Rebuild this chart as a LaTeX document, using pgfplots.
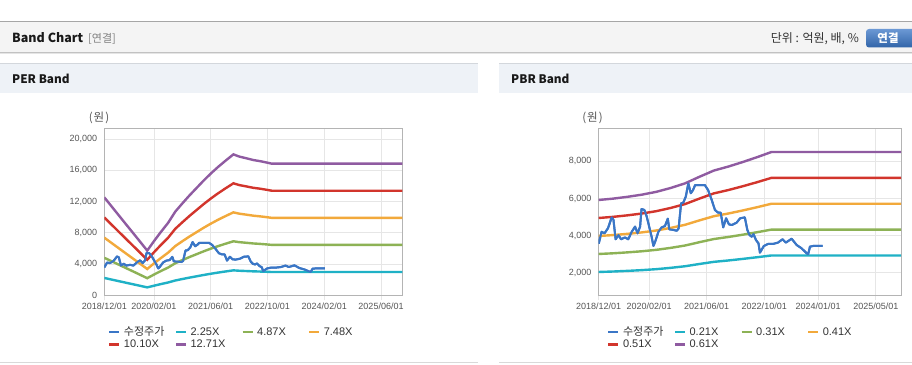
\documentclass[border=0pt]{standalone}
\usepackage{pgfplots}
\pgfplotsset{compat=1.18}
\usepackage{pgfplotstable}
\usepackage{fontspec}
\setmainfont{Liberation Sans}
\newfontfamily\kr{Noto Sans CJK KR}

\definecolor{cPrice}{HTML}{3A76C6}
\definecolor{cB1}{HTML}{1FB1C6}
\definecolor{cB2}{HTML}{8DB255}
\definecolor{cB3}{HTML}{F2A93B}
\definecolor{cB4}{HTML}{D2352C}
\definecolor{cB5}{HTML}{8F5BA1}
\definecolor{axisc}{HTML}{B4B4B4}
\definecolor{gridc}{HTML}{E6E6E6}
\definecolor{tickc}{HTML}{555555}
\definecolor{legc}{HTML}{333333}
\definecolor{hdrfill}{HTML}{F4F4F4}
\definecolor{panfill}{HTML}{EEF2F7}
\definecolor{panline}{HTML}{D3D7DC}

\pgfplotstableread{
t p
0 3560
0.8 4200
1.6 4120
2.6 4400
3.6 4980
4.1 4850
4.7 3800
5.5 4030
6.2 3800
7.3 3900
8.2 3800
9.2 4210
10.1 4480
10.8 4120
11.5 4480
11.9 5430
12.7 5380
13.3 5050
13.8 4660
14.7 3940
15.2 3440
15.7 3670
16.6 4210
17.5 4440
18.4 4510
19.2 4910
19.6 4340
20.8 4300
21.7 4260
22.2 4380
22.9 5740
23.5 5770
24.2 6100
24.9 6810
25.6 6280
26.2 6450
26.8 6720
29.5 6720
30.4 6450
31.4 5920
32.3 5380
33.2 5230
33.9 5230
34.6 4440
35.4 4930
36.2 4600
37.0 4570
38.3 4690
39.3 4930
40.6 4980
41.3 4300
41.9 4030
42.5 3940
43.0 4080
43.7 3760
44.4 3580
44.8 3080
45.9 3440
47.1 3550
48.5 3550
49.8 3620
51.1 3800
52.0 3620
53.6 3830
55.0 3490
56.4 3310
57.8 3040
58.2 2990
58.7 3400
59.6 3440
62.2 3440
}\price

\pgfplotstableread{
t b1 b2 b3 b4 b5
0 2219 4802 7375 9959 12532
3 1919 4154 6380 8615 10842
6 1620 3506 5386 7272 9151
9 1323 2864 4398 5939 7473
12.1 1013 2192 3366 4545 5720
14 1226 2654 4077 5505 6927
16 1440 3117 4787 6464 8134
18 1643 3555 5460 7373 9278
20 1895 4101 6298 8504 10702
22 2081 4505 6919 9343 11757
24 2261 4894 7517 10151 12774
26 2430 5260 8078 10908 13727
28 2599 5625 8639 11666 14680
30 2756 5966 9163 12373 15570
32 2903 6282 9649 13029 16396
34 3038 6575 10098 13635 17159
36.4 3193 6911 10614 14332 18035
38 3143 6803 10450 14110 17756
40 3105 6721 10322 13938 17540
42 3065 6633 10188 13756 17311
44 3038 6575 10098 13635 17159
46 3004 6501 9986 13484 16968
47.2 2981 6453 9911 13383 16841
84 2981 6453 9911 13383 16841
}\per

\pgfplotstableread{
t b1 b2 b3 b4 b5
0 2037 3007 3977 4947 5917
4 2062 3044 4026 5008 5990
8 2096 3094 4092 5090 6088
12 2136 3153 4170 5187 6204
16 2188 3230 4272 5314 6356
20 2260 3336 4412 5488 6564
24 2346 3463 4580 5697 6814
28 2468 3643 4818 5993 7168
32 2583 3813 5043 6273 7503
36 2657 3922 5187 6452 7717
40 2741 4046 5351 6656 7961
44 2831 4179 5527 6875 8223
48 2927 4321 5715 7109 8503
84 2927 4321 5715 7109 8503
}\pbr

\pgfplotsset{
  bandaxis/.style={
    scale only axis, height=167pt,
    xmin=0, xmax=84,
    axis line style={draw=axisc, line width=0.8pt},
    grid=major, major grid style={draw=gridc, line width=0.8pt},
    tick align=outside, major tick length=5pt,
    xtick style={draw=gridc, line width=0.8pt}, ytick style={draw=none},
    xtick pos=bottom, ytick pos=left,
    ticklabel style={font=\fontsize{9}{10}\selectfont, text=tickc},
    yticklabel style={inner sep=0pt, xshift=-2pt, /pgf/number format/.cd, fixed, 1000 sep={,}, assume math mode=true},
    xticklabel style={inner sep=0pt, yshift=-2.5pt},
    scaled y ticks=false,
    legend columns=4, legend cell align=left,
    legend style={draw=none, fill=none, anchor=north west,
      font=\fontsize{11}{12}\selectfont, text=legc, inner sep=0pt,
      nodes={inner sep=0.8pt, text height=8.2pt, text depth=2.5pt},
      /tikz/every odd column/.append style={column sep=2.5pt}},
    legend image code/.code={\draw[##1, line width=2.5pt] (0pt,0pt) -- (10pt,0pt);},
  },
  pstyle/.style={cPrice, line width=2pt, line join=round},
  s1/.style={cB1, line width=2.4pt},
  s2/.style={cB2, line width=2.4pt},
  s3/.style={cB3, line width=2.4pt},
  s4/.style={cB4, line width=2.4pt},
  s5/.style={cB5, line width=2.4pt},
}
\newcommand{\lgbox}[1]{\makebox[50pt][l]{#1}}

\begin{document}
\begin{tikzpicture}[x=1pt,y=1pt]
\path[use as bounding box] (0,0) rectangle (912,364);
\clip (0,0) rectangle (912,364);
\fill[white] (0,0) rectangle (912,364);
% top header bar
\fill[hdrfill] (0,311.5) rectangle (912,341.5);
\draw[color=black!35, line width=1pt] (0,342) -- (912,342);
\draw[color=black!24, line width=1pt] (0,311.5) -- (912,311.5);
\draw[color=black!10, line width=1pt] (0,310.5) -- (912,310.5);
\node[anchor=base west, inner sep=0pt, text=black!90] at (12,321) {\kr\bfseries\fontsize{12.5}{14}\selectfont Band Chart};
\node[anchor=base west, inner sep=0pt, text=black!50] at (88,321) {\kr\fontsize{11}{13}\selectfont [연결]};
\node[anchor=base east, inner sep=0pt, text=black!80] at (859,321) {\kr\fontsize{12}{13}\selectfont 단위 : 억원, 배, \%};
\shade[rounded corners=3pt, top color=cPrice!75!white, bottom color=cPrice!85!black] (866,316.5) rectangle (922,335);
\node[text=white, inner sep=0pt] at (888,325.8) {\kr\bfseries\fontsize{11.5}{13}\selectfont 연결};
% panel headers
\fill[panfill] (0,271) rectangle (478,300);
\fill[panfill] (499,271) rectangle (912,300);
\draw[panline, line width=1.5pt] (0,300.5) -- (478,300.5);
\draw[panline, line width=1.5pt] (499,300.5) -- (912,300.5);
\node[anchor=base west, inner sep=0pt, text=black!90] at (12,280) {\kr\bfseries\fontsize{11.8}{14}\selectfont PER Band};
\node[anchor=base west, inner sep=0pt, text=black!90] at (511,280) {\kr\bfseries\fontsize{11.8}{14}\selectfont PBR Band};
\draw[black!15, line width=1pt] (0,1.5) -- (478,1.5);
\draw[black!15, line width=1pt] (499,1.5) -- (912,1.5);
\node[text=tickc, inner sep=0pt] at (99,246) {\kr\fontsize{11.5}{12}\selectfont (\kern1pt 원\kern1pt)};
\node[text=tickc, inner sep=0pt] at (592.5,246) {\kr\fontsize{11.5}{12}\selectfont (\kern1pt 원\kern1pt)};

% PER band
\begin{axis}[bandaxis, at={(104.3pt,68.7pt)}, anchor=south west, width=298pt,
  ymin=0, ymax=21370, ytick={0,4000,8000,12000,16000,20000},
  xtick={0,14,30,46,62,78},
  xticklabels={2018/12/01,2020/02/01,2021/06/01,2022/10/01,2024/02/01,2025/06/01},
  legend style={at={(axis description cs:0.0124,-0.183)}}]
\addplot[pstyle] table[x=t,y=p]{\price}; \addlegendentry{\lgbox{\kr 수정주가}}
\addplot[s1] table[x=t,y=b1]{\per}; \addlegendentry{\lgbox{2.25X}}
\addplot[s2] table[x=t,y=b2]{\per}; \addlegendentry{\lgbox{4.87X}}
\addplot[s3] table[x=t,y=b3]{\per}; \addlegendentry{\lgbox{7.48X}}
\addplot[s4] table[x=t,y=b4]{\per}; \addlegendentry{\lgbox{10.10X}}
\addplot[s5] table[x=t,y=b5]{\per}; \addlegendentry{\lgbox{12.71X}}
\addplot[pstyle, forget plot] table[x=t,y=p]{\price};
\end{axis}

% PBR band
\begin{axis}[bandaxis, at={(598.7pt,68.7pt)}, anchor=south west, width=302.3pt,
  ymin=780, ymax=9780, ytick={2000,4000,6000,8000},
  xtick={0,14,30,46,61,77},
  xticklabels={2018/12/01,2020/02/01,2021/06/01,2022/10/01,2024/01/01,2025/05/01},
  legend style={at={(axis description cs:0.0275,-0.183)}}]
\addplot[pstyle] table[x=t,y=p]{\price}; \addlegendentry{\lgbox{\kr 수정주가}}
\addplot[s1] table[x=t,y=b1]{\pbr}; \addlegendentry{\lgbox{0.21X}}
\addplot[s2] table[x=t,y=b2]{\pbr}; \addlegendentry{\lgbox{0.31X}}
\addplot[s3] table[x=t,y=b3]{\pbr}; \addlegendentry{\lgbox{0.41X}}
\addplot[s4] table[x=t,y=b4]{\pbr}; \addlegendentry{\lgbox{0.51X}}
\addplot[s5] table[x=t,y=b5]{\pbr}; \addlegendentry{\lgbox{0.61X}}
\addplot[pstyle, forget plot] table[x=t,y=p]{\price};
\end{axis}
\end{tikzpicture}
\end{document}
